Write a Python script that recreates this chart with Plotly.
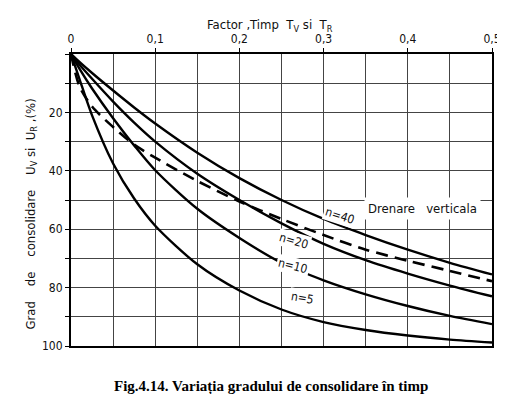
import plotly.graph_objects as go

T = [0, 0.01, 0.025, 0.05, 0.075, 0.1, 0.15, 0.2, 0.25, 0.3, 0.35, 0.4, 0.45, 0.5]
U_n5 = [0, 8.5, 21, 37.5, 49.5, 58.8, 72, 81, 87.5, 91.8, 94.5, 96.4, 97.8, 98.8]
U_n10 = [0, 5, 11.8, 22, 31.3, 39.8, 53, 63, 71.5, 77.5, 82.3, 86.3, 89.7, 92.5]
U_n20 = [0, 3.6, 8.5, 16.3, 23.5, 30, 41, 50, 58, 65, 70.6, 75.2, 79.3, 83]
U_n40 = [0, 2.7, 6.5, 12.5, 18.3, 23.8, 33.8, 42.5, 50, 56.5, 62, 67, 71.5, 75.5]
U_vert = [0, 11, 18, 25, 31, 35.5, 43.5, 50.5, 56.5, 62, 67, 70.8, 74.3, 77.8]

x_ticks = [0, 0.1, 0.2, 0.3, 0.4, 0.5]
x_ticktext = ["0", "0,1", "0,2", "0,3", "0,4", "0,5"]
y_ticks = [0, 10, 20, 30, 40, 50, 60, 70, 80, 90, 100]
y_ticktext = ["", "", "20", "", "40", "", "60", "", "80", "", "100"]

labels = [("n=40", 0.32, 55.5, 18), ("n=20", 0.265, 64, 16),
          ("n=10", 0.264, 72.5, 14), ("n=5", 0.275, 83.5, 10)]

fig = go.Figure()
for ys in [U_n5, U_n10, U_n20, U_n40]:
    fig.add_trace(go.Scatter(x=T, y=ys, mode="lines",
                             line=dict(color="black", width=2.4, shape="spline", smoothing=0.8),
                             showlegend=False, hoverinfo="skip"))
fig.add_trace(go.Scatter(x=T, y=U_vert, mode="lines",
                         line=dict(color="black", width=2.6, dash="12px,7px", shape="spline", smoothing=0.8),
                         showlegend=False, hoverinfo="skip"))

font = "DejaVu Sans Condensed, DejaVu Sans, sans-serif"
for txt, xv, yv, ang in labels:
    fig.add_annotation(x=xv, y=yv, text=txt, showarrow=False, textangle=ang,
                       font=dict(family=font, size=12, color="#111"), bgcolor="white")
fig.add_annotation(x=0.418, y=53, text="Drenare   verticala", showarrow=False,
                   font=dict(family=font, size=13, color="#111"), bgcolor="white", borderpad=3)

fig.add_annotation(xref="paper", yref="paper", x=0.473, y=1.0, yanchor="middle", yshift=29,
                   text="Factor ,Timp  T<sub>V</sub> si  T<sub>R</sub>", showarrow=False,
                   font=dict(family=font, size=13, color="#111"))
fig.add_annotation(xref="paper", yref="paper", x=0.475, y=0, yanchor="middle", yshift=-40,
                   text="<b>Fig.4.14. Variația gradului de consolidare în timp</b>", showarrow=False,
                   font=dict(family="Liberation Serif, serif", size=15, color="black"))
fig.add_annotation(xref="paper", yref="paper", x=-0.096, y=0.452, xanchor="center", yanchor="middle",
                   textangle=-90,
                   text="Grad    de    consolidare    U<sub>V</sub> si  U<sub>R</sub> ,(%)",
                   showarrow=False, font=dict(family=font, size=13, color="#111"))

fig.update_xaxes(side="top", range=[0, 0.5], tickvals=x_ticks, ticktext=x_ticktext,
                 showgrid=True, gridcolor="#444", gridwidth=1,
                 minor=dict(dtick=0.05, tick0=0, showgrid=True, gridcolor="#444", gridwidth=1),
                 ticks="outside", ticklen=4, tickcolor="black",
                 showline=True, linecolor="black", linewidth=2, mirror=True,
                 zeroline=False, tickfont=dict(family=font, size=12, color="#111"))
fig.update_yaxes(range=[100, 0], tickvals=y_ticks, ticktext=y_ticktext,
                 showgrid=True, gridcolor="#444", gridwidth=1,
                 ticks="outside", ticklen=4, tickcolor="black",
                 showline=True, linecolor="black", linewidth=2, mirror=True, zeroline=False,
                 tickfont=dict(family=font, size=12, color="#111"))

fig.update_layout(width=505, height=394, margin=dict(l=63, r=15, t=46, b=56),
                  plot_bgcolor="white", paper_bgcolor="white")
fig.write_html("out.html")
